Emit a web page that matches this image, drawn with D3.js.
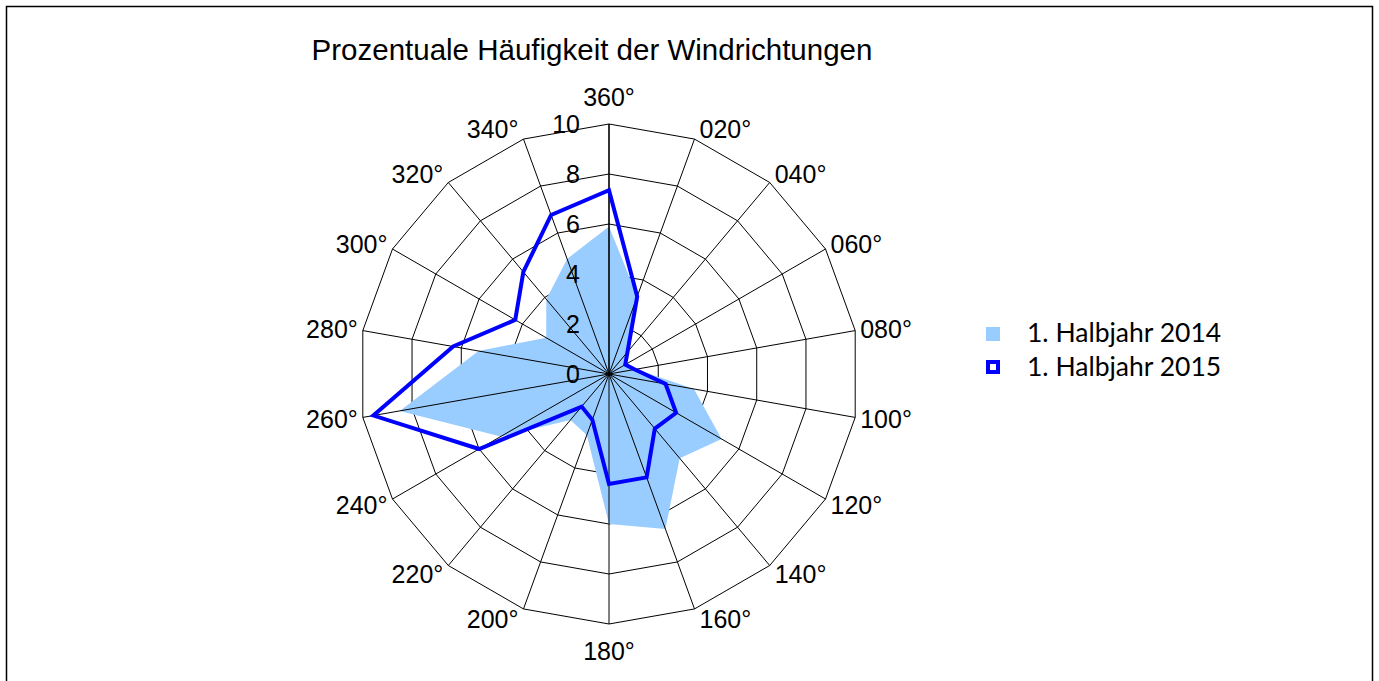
<!DOCTYPE html>
<html>
<head>
<meta charset="utf-8">
<script src="https://cdn.jsdelivr.net/npm/d3@7"></script>
<style>
  body { margin: 0; background: #fff; }
  svg { display: block; }
</style>
</head>
<body>
<div id="chart"></div>
<script>
// wind directions (categories), one every 20 degrees, clockwise from north
const directions = ["360°", "020°", "040°", "060°", "080°", "100°", "120°", "140°", "160°",
                    "180°", "200°", "220°", "240°", "260°", "280°", "300°", "320°", "340°"];
// percentage frequency per direction
const halbjahr2014 = [5.9, 3.3, 1.1, 0.7, 1.1, 3.45, 5.2, 4.4, 6.6, 6.0, 2.6, 2.4, 5.0, 8.5, 5.3, 2.9, 3.9, 4.9];
const halbjahr2015 = [7.35, 3.3, 1.15, 0.75, 1.05, 2.3, 3.1, 2.85, 4.4, 4.4, 1.95, 1.7, 6.0, 9.57, 6.33, 4.33, 5.33, 6.77];
const ticks = [0, 2, 4, 6, 8, 10];
const seriesNames = ["1. Halbjahr 2014", "1. Halbjahr 2015"];

const width = 1379;
const height = 681;
const cx = 609, cy = 374;
const R = 250;

var svg = d3.select("#chart")
    .append("svg")
    .attr("width", width)
    .attr("height", height);

// outer frame
svg.append("rect")
    .attr("x", 6.5).attr("y", 6.5)
    .attr("width", 1366).attr("height", 720)
    .attr("fill", "none")
    .attr("stroke", "#000")
    .attr("stroke-width", 1.5);

svg.append("text")
    .attr("x", 592).attr("y", 60)
    .attr("text-anchor", "middle")
    .style("font-family", "'Liberation Sans', Arial, sans-serif")
    .style("font-size", "29.5px")
    .text("Prozentuale Häufigkeit der Windrichtungen");

var r = d3.scaleLinear().domain([0, 10]).range([0, R]);
var angle = d3.scaleLinear().domain([0, directions.length]).range([0, 2 * Math.PI]);

function pt(i, v) {
    var a = angle(i);
    return [cx + r(v) * Math.sin(a), cy - r(v) * Math.cos(a)];
}

var g = svg.append("g");

// rings
g.selectAll(".ring")
    .data(ticks.filter(function (t) { return t > 0; }))
    .join("polygon")
    .attr("class", "ring")
    .attr("points", function (t) {
        return directions.map(function (d, i) { return pt(i, t).join(","); }).join(" ");
    })
    .attr("fill", "none")
    .attr("stroke", "#000")
    .attr("stroke-width", 1);

// 2014 filled area
g.append("polygon")
    .attr("points", halbjahr2014.map(function (v, i) { return pt(i, v).join(","); }).join(" "))
    .attr("fill", "#99ccff")
    .attr("stroke", "none");

// spokes
g.selectAll(".spoke")
    .data(directions)
    .join("line")
    .attr("class", "spoke")
    .attr("x1", cx).attr("y1", cy)
    .attr("x2", function (d, i) { return pt(i, 10)[0]; })
    .attr("y2", function (d, i) { return pt(i, 10)[1]; })
    .attr("stroke", "#000")
    .attr("stroke-width", function (d, i) { return i === 0 ? 1.6 : 1; });

// 2015 line
var line = d3.line().curve(d3.curveLinearClosed);
g.append("path")
    .attr("d", line(halbjahr2015.map(function (v, i) { return pt(i, v); })))
    .attr("fill", "none")
    .attr("stroke", "#0000ff")
    .attr("stroke-width", 4)
    .attr("stroke-linejoin", "miter");

// value labels
g.selectAll(".tick")
    .data(ticks)
    .join("text")
    .attr("class", "tick")
    .attr("x", cx - 29)
    .attr("y", function (t) { return cy - r(t); })
    .attr("dy", "0.36em")
    .attr("text-anchor", "end")
    .style("font-family", "'Liberation Sans', Arial, sans-serif")
    .style("font-size", "25px")
    .text(function (t) { return t; });

// direction labels
g.selectAll(".dir")
    .data(directions)
    .join("text")
    .attr("class", "dir")
    .each(function (d, i) {
        var a = angle(i), s = Math.sin(a), c = Math.cos(a);
        var p = pt(i, 10);
        var el = d3.select(this);
        if (Math.abs(s) < 0.01) {
            el.attr("x", p[0]).attr("y", p[1] - 27 * c).attr("text-anchor", "middle");
        } else {
            el.attr("x", p[0] + 5 * Math.sign(s)).attr("y", p[1] - 11 * c)
              .attr("text-anchor", s > 0 ? "start" : "end");
        }
    })
    .attr("dy", "0.36em")
    .style("font-family", "'Liberation Sans', Arial, sans-serif")
    .style("font-size", "25px")
    .text(function (d) { return d; });

// legend
var legend = svg.append("g").attr("transform", "translate(986,327)");
legend.append("rect")
    .attr("x", 0).attr("y", 0).attr("width", 14).attr("height", 14)
    .attr("fill", "#99ccff");
legend.append("rect")
    .attr("x", 2).attr("y", 35).attr("width", 10).attr("height", 10)
    .attr("fill", "#fff").attr("stroke", "#0000ff").attr("stroke-width", 4);
legend.selectAll(".leg")
    .data(seriesNames)
    .join("text")
    .attr("class", "leg")
    .attr("x", 41)
    .attr("y", function (d, i) { return 15 + i * 33.5; })
    .style("font-family", "Lato, 'Open Sans', sans-serif")
    .style("font-size", "26.5px")
    .text(function (d) { return d; });
</script>
</body>
</html>
